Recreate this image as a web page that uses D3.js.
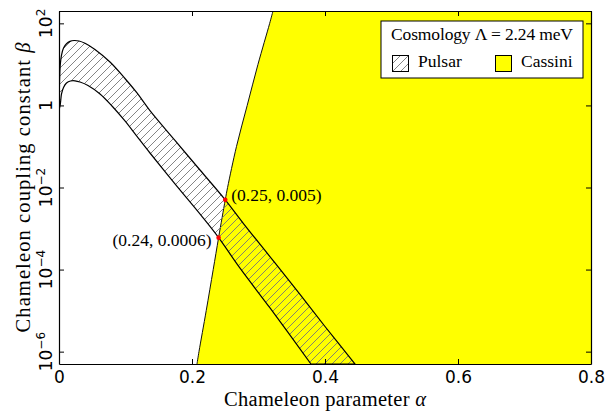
<!DOCTYPE html>
<html>
<head>
<meta charset="utf-8">
<script src="https://cdn.jsdelivr.net/npm/d3@7"></script>
<style>
  body { margin: 0; background: #fff; }
</style>
</head>
<body>
<svg id="chart" width="613" height="412"></svg>
<script>
// pulsar band, upper edge (alpha, beta)
var upperAlpha = [0.0003, 0.0009, 0.002, 0.0038, 0.0068, 0.0113, 0.0165, 0.0226, 0.0301, 0.0391, 0.0541, 0.0767, 0.0992, 0.1173, 0.1368, 0.1744, 0.212, 0.25, 0.2771, 0.3248, 0.3624, 0.4, 0.4451];
var upperBeta  = [1.2, 4.2, 10.2, 16.9, 25.1, 31.8, 36.3, 38.2, 37.2, 32.7, 23.1, 11.4, 4.53, 2.01, 0.744, 0.140, 0.0267, 0.005, 0.00134, 1.45e-4, 2.47e-5, 4.1e-6, 5e-7];
// pulsar band, lower edge
var lowerAlpha = [0.0003, 0.002, 0.0038, 0.0068, 0.0113, 0.0173, 0.0241, 0.0316, 0.0436, 0.0617, 0.0797, 0.0992, 0.1173, 0.1368, 0.1744, 0.2146, 0.24, 0.2722, 0.3173, 0.3789];
var lowerBeta  = [0.8, 1.08, 1.9, 2.74, 3.52, 3.94, 3.98, 3.72, 3.06, 1.9, 0.968, 0.418, 0.175, 0.0693, 0.0122, 0.002, 0.0006, 1.08e-4, 1.16e-5, 5e-7];
// Cassini bound
var cassiniBeta  = [5e-7, 1e-6, 1e-5, 1e-4, 6e-4, 5e-3, 1e-2, 1e-1, 1, 10, 100, 200];
var cassiniAlpha = [0.2075, 0.2105, 0.2214, 0.2319, 0.24, 0.25, 0.2535, 0.2669, 0.283, 0.2992, 0.3168, 0.3218];

var markAlpha = [0.25, 0.24];
var markBeta = [0.005, 0.0006];
var markLabels = ["(0.25, 0.005)", "(0.24, 0.0006)"];

var xTicks = [0, 0.2, 0.4, 0.6, 0.8];
var yTicks = [1e-6, 1e-4, 1e-2, 1, 1e2];
var yTickExp = ["\u22126", "\u22124", "\u22122", "", "2"];

var pLeft = 59, pRight = 591, pTop = 11, pBottom = 364;
var serif = "'Liberation Serif', 'Times New Roman', serif";
var sans = "'DejaVu Sans', sans-serif";

var svg = d3.select("#chart");
var x = d3.scaleLinear().domain([0, 0.8]).range([pLeft, pRight]);
var y = d3.scaleLog().domain([5e-7, 200]).range([pBottom, pTop]);

var defs = svg.append("defs");
defs.append("clipPath").attr("id", "plotclip")
  .append("rect").attr("x", pLeft).attr("y", pTop).attr("width", pRight - pLeft).attr("height", pBottom - pTop);
var pat = defs.append("pattern").attr("id", "hatch")
  .attr("patternUnits", "userSpaceOnUse").attr("width", 8).attr("height", 8);
pat.append("path").attr("d", "M-1,1 l2,-2 M0,8 l8,-8 M7,9 l2,-2")
  .attr("stroke", "#777").attr("stroke-width", 0.9);

var plot = svg.append("g").attr("clip-path", "url(#plotclip)");

var line = d3.line()
  .x(function (d) { return x(d[0]); })
  .y(function (d) { return y(d[1]); })
  .curve(d3.curveCatmullRom);

// Cassini region
var cas = cassiniAlpha.map(function (a, i) { return [a, cassiniBeta[i]]; });
plot.append("path")
  .attr("d", line(cas) + "L" + x(0.8) + "," + y(200) + "L" + x(0.8) + "," + y(5e-7) + "Z")
  .attr("fill", "#ffff00").attr("stroke", "none");
plot.append("path").attr("d", line(cas))
  .attr("fill", "none").attr("stroke", "#111").attr("stroke-width", 1);

// pulsar band
var up = upperAlpha.map(function (a, i) { return [a, upperBeta[i]]; });
var lo = lowerAlpha.map(function (a, i) { return [a, lowerBeta[i]]; }).reverse();
var bandPath = line(up) + line(lo).replace("M", "L") + "Z";
plot.append("path").attr("d", bandPath)
  .attr("fill", "url(#hatch)").attr("stroke", "#000").attr("stroke-width", 1.2);

// marked points
plot.selectAll("circle.mark").data(markAlpha).enter().append("circle")
  .attr("class", "mark")
  .attr("cx", function (d) { return x(d); })
  .attr("cy", function (d, i) { return y(markBeta[i]); })
  .attr("r", 2.3).attr("fill", "#ff0000");
svg.append("text").attr("x", x(markAlpha[0]) + 6).attr("y", y(markBeta[0]) + 1)
  .attr("font-family", serif).attr("font-size", 17.5).text(markLabels[0]);
svg.append("text").attr("x", x(markAlpha[1]) - 7).attr("y", y(markBeta[1]) + 8)
  .attr("text-anchor", "end")
  .attr("font-family", serif).attr("font-size", 17.5).text(markLabels[1]);

// axes
var gx = svg.append("g").attr("transform", "translate(0," + pBottom + ")")
  .call(d3.axisBottom(x).tickValues(xTicks).tickSize(-5).tickSizeOuter(0).tickFormat(d3.format("")));
svg.append("g").attr("transform", "translate(0," + pTop + ")")
  .call(d3.axisTop(x).tickValues(xTicks).tickSize(-5).tickSizeOuter(0).tickFormat(""));
svg.append("g").attr("transform", "translate(" + pLeft + ",0)")
  .call(d3.axisLeft(y).tickValues(yTicks).tickSize(-5).tickSizeOuter(0).tickFormat(""));
svg.append("g").attr("transform", "translate(" + pRight + ",0)")
  .call(d3.axisRight(y).tickValues(yTicks).tickSize(-5).tickSizeOuter(0).tickFormat(""));
svg.selectAll(".domain").attr("stroke", "#000").attr("stroke-width", 1.2);
svg.selectAll(".tick line").attr("stroke", "#000");
gx.selectAll("text").attr("y", 7).attr("dy", "0.71em")
  .attr("font-family", sans).attr("font-size", 17).attr("fill", "#000");

// y tick labels, rotated
var yl = svg.append("g").selectAll("text").data(yTicks).enter().append("text")
  .attr("transform", function (d) { return "translate(52," + y(d) + ") rotate(-90)"; })
  .attr("text-anchor", "middle").attr("font-family", sans).attr("font-size", 17);
yl.each(function (d, i) {
  var t = d3.select(this);
  if (yTickExp[i] === "") { t.text("1"); return; }
  t.append("tspan").text("10");
  t.append("tspan").attr("dy", -7).attr("font-size", 12).text(yTickExp[i]);
});

// axis titles
var xt = svg.append("text").attr("x", (pLeft + pRight) / 2).attr("y", 406)
  .attr("text-anchor", "middle").attr("font-family", serif).attr("font-size", 20.5)
  .attr("textLength", 202).attr("lengthAdjust", "spacing");
xt.append("tspan").text("Chameleon parameter ");
xt.append("tspan").attr("font-style", "italic").text("\u03b1");
var yt = svg.append("text").attr("transform", "translate(30," + (pTop + pBottom) / 2 + ") rotate(-90)")
  .attr("text-anchor", "middle").attr("font-family", serif).attr("font-size", 20.5)
  .attr("textLength", 290).attr("lengthAdjust", "spacing");
yt.append("tspan").text("Chameleon coupling constant ");
yt.append("tspan").attr("font-style", "italic").text("\u03b2");

// legend
var lg = svg.append("g");
lg.append("rect").attr("x", 381).attr("y", 21).attr("width", 202).attr("height", 57)
  .attr("fill", "#fff").attr("stroke", "#000").attr("stroke-width", 1);
lg.append("text").attr("x", 482).attr("y", 40).attr("text-anchor", "middle")
  .attr("font-family", serif).attr("font-size", 17.5)
  .attr("textLength", 182).attr("lengthAdjust", "spacing")
  .text("Cosmology  \u039b = 2.24 meV");
lg.append("rect").attr("x", 392.5).attr("y", 55.5).attr("width", 16).attr("height", 16)
  .attr("fill", "url(#hatch)").attr("stroke", "#000");
lg.append("text").attr("x", 418).attr("y", 67).attr("font-family", serif).attr("font-size", 17.5).text("Pulsar");
lg.append("rect").attr("x", 495.5).attr("y", 55.5).attr("width", 16).attr("height", 16)
  .attr("fill", "#ffff00").attr("stroke", "#000");
lg.append("text").attr("x", 521).attr("y", 67).attr("font-family", serif).attr("font-size", 17.5).text("Cassini");
</script>
</body>
</html>
